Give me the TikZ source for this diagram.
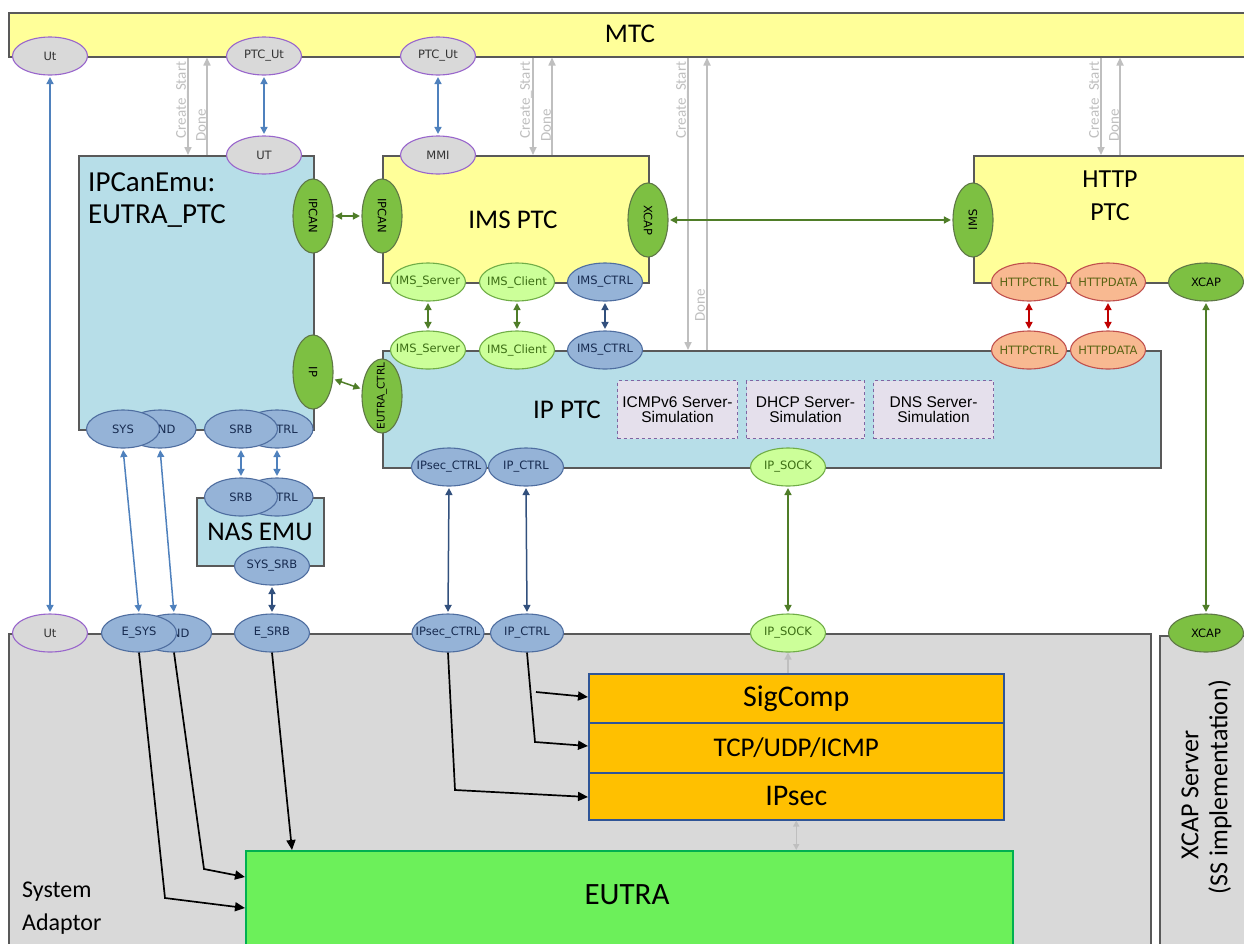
\documentclass[tikz,border=0pt]{standalone}
\usepackage{fontspec}
\setmainfont{Carlito}
\newfontfamily\portfont{DejaVu Sans}
\newfontfamily\arialfont{Liberation Sans}
\usetikzlibrary{shapes.geometric,arrows.meta}
\newcommand\ptxt[1]{\makebox[0pt]{#1}}
\newcommand\fsz[1]{\fontsize{#1}{#1}\selectfont}
\definecolor{cYellow}{RGB}{255,255,153}
\definecolor{cLBlue}{RGB}{183,222,232}
\definecolor{cBoxLine}{RGB}{89,89,89}
\definecolor{cSA}{RGB}{217,217,217}
\definecolor{cOrange}{RGB}{255,192,0}
\definecolor{cOrangeLine}{RGB}{47,85,151}
\definecolor{cEutra}{RGB}{108,240,90}
\definecolor{cEutraLine}{RGB}{0,176,80}
\definecolor{cLav}{RGB}{229,224,236}
\definecolor{cLavLine}{RGB}{128,100,162}
\definecolor{pGray}{RGB}{217,217,217}
\definecolor{pGrayL}{RGB}{153,102,204}
\definecolor{pBlue}{RGB}{149,179,215}
\definecolor{pBlueL}{RGB}{79,110,160}
\definecolor{pBlueT}{RGB}{23,43,80}
\definecolor{pGreen}{RGB}{125,192,66}
\definecolor{pGreenL}{RGB}{95,120,70}
\definecolor{pLGreen}{RGB}{204,255,153}
\definecolor{pLGreenL}{RGB}{112,173,71}
\definecolor{pLGreenT}{RGB}{60,110,20}
\definecolor{pOrange}{RGB}{248,185,145}
\definecolor{pOrangeL}{RGB}{192,80,77}
\definecolor{pOrangeT}{RGB}{90,100,20}
\definecolor{aBlue}{RGB}{79,129,189}
\definecolor{aDBlue}{RGB}{50,80,125}
\definecolor{aGreen}{RGB}{79,125,40}
\definecolor{aRed}{RGB}{192,0,0}
\definecolor{aGray}{RGB}{191,191,191}
\begin{document}
\begin{tikzpicture}[x=1pt,y=-1pt,
  box/.style={rectangle, draw=cBoxLine, line width=1.5pt, inner sep=0pt, anchor=north west},
  port/.style={ellipse, draw, line width=1.1pt, inner sep=0pt, minimum width=75pt, minimum height=38pt, font=\portfont\fsz{11.5}},
  vport/.style={port, minimum width=74pt, minimum height=40pt},
  pgray/.style={fill=pGray, draw=pGrayL, text=black!80},
  pblue/.style={fill=pBlue, draw=pBlueL, text=pBlueT},
  pgreen/.style={fill=pGreen, draw=pGreenL, text=black},
  plgreen/.style={fill=pLGreen, draw=pLGreenL, text=pLGreenT},
  porange/.style={fill=pOrange, draw=pOrangeL, text=pOrangeT},
  ar/.style={line width=1.5pt, {Triangle[length=7pt,width=7pt]}-{Triangle[length=7pt,width=7pt]}, shorten <=1.5pt, shorten >=1.5pt},
  bluear/.style={ar, draw=aBlue},
  dbluear/.style={ar, draw=aDBlue},
  greenar/.style={ar, draw=aGreen},
  redar/.style={ar, draw=aRed},
  gline/.style={draw=aGray, line width=1.6pt, -{Triangle[length=8pt,width=7pt]}},
  glab/.style={text=aGray, font=\fsz{15}, rotate=90, inner sep=0pt},
  blk/.style={draw=black, line width=1.7pt, -{Triangle[length=10pt,width=9pt]}},
  stack/.style={box, draw=cOrangeLine, fill=cOrange, minimum width=415pt, font=\fsz{30}},
  sim/.style={box, draw=cLavLine, fill=cLav, dashed, line width=1pt, minimum height=58pt, align=center, font=\arialfont\fsz{15.5}},
  big/.style={font=\fsz{26}, inner sep=0pt}
]
\useasboundingbox[fill=white] (0,0) rectangle (1244,943);

% ---------- boxes ----------
\node[box, fill=cSA, minimum width=1142pt, minimum height=340pt] (sa) at (8,633) {};
\node[box, fill=cSA, minimum width=110pt, minimum height=340pt] (xs) at (1159,635) {};
\node[box, fill=cYellow, minimum width=1260pt, minimum height=44pt] (mtc) at (8,12) {};
\node[box, fill=cLBlue, minimum width=235pt, minimum height=274pt] (ipc) at (78,155) {};
\node[box, fill=cYellow, minimum width=266pt, minimum height=127pt] (ims) at (382,155) {};
\node[box, fill=cYellow, minimum width=300pt, minimum height=127pt] (http) at (973,155) {};
\node[box, fill=cLBlue, minimum width=778pt, minimum height=117pt] (ipptc) at (382,350) {};
\node[box, fill=cLBlue, minimum width=127pt, minimum height=68pt] (nas) at (196,497) {};
\node[stack, minimum height=49pt] (sigcomp) at (588,673) {SigComp};
\node[stack, minimum height=50pt, font=\fsz{27}] (tcp) at (588,722) {TCP/UDP/ICMP};
\node[stack, minimum height=47pt] (ipsec) at (588,772) {IPsec};
\node[box, draw=cEutraLine, fill=cEutra, line width=2pt, minimum width=767pt, minimum height=130pt] (eutra) at (245,850) {};
\node[sim, minimum width=120pt] (icmp) at (617,380) {ICMPv6 Server-\\Simulation};
\node[sim, minimum width=118pt] (dhcp) at (746,380) {DHCP Server-\\Simulation};
\node[sim, minimum width=120pt] (dns) at (873,380) {DNS Server-\\Simulation};

% ---------- box texts ----------
\node[big, font=\fsz{27}] (mtct) at (630,34) {MTC};
\node[big, font=\fsz{29}, anchor=base west] (ipct1) at (88,191) {IPCanEmu:};
\node[big, font=\fsz{29}, anchor=base west] (ipct2) at (88,223) {EUTRA\_PTC};
\node[big, font=\fsz{27}] (imst) at (513,220) {IMS PTC};
\node[big, anchor=base] (httpt1) at (1110,187) {HTTP};
\node[big, anchor=base] (httpt2) at (1110,220) {PTC};
\node[big, font=\fsz{27}] (ipptct) at (567,410) {IP PTC};
\node[big, font=\fsz{27}] (nast) at (260,532) {NAS EMU};
\node[big, font=\fsz{31}] (eutrat) at (627,895) {EUTRA};
\node[big, font=\fsz{24}, anchor=base west] (sat1) at (22,897) {System};
\node[big, font=\fsz{24}, anchor=base west] (sat2) at (22,930) {Adaptor};
\node[big, rotate=90] (xst1) at (1190,795) {XCAP Server};
\node[big, rotate=90] (xst2) at (1220,787) {(SS implementation)};

% ---------- Create_Start / Done ----------
\coordinate (cs1) at (188,0); \coordinate (dn1) at (207,0);
\coordinate (cs2) at (533,0); \coordinate (dn2) at (552,0);
\coordinate (cs3) at (688,0); \coordinate (dn3) at (707,0);
\coordinate (cs4) at (1101,0); \coordinate (dn4) at (1120,0);
\draw[gline] (cs1 |- mtc.south) -- (cs1 |- ipc.north);
\draw[gline] (dn1 |- ipc.north) -- (dn1 |- mtc.south);
\draw[gline] (cs2 |- mtc.south) -- (cs2 |- ims.north);
\draw[gline] (dn2 |- ims.north) -- (dn2 |- mtc.south);
\draw[gline] (cs3 |- mtc.south) -- (cs3 |- ipptc.north);
\draw[gline] (dn3 |- ipptc.north) -- (dn3 |- mtc.south);
\draw[gline] (cs4 |- mtc.south) -- (cs4 |- http.north);
\draw[gline] (dn4 |- http.north) -- (dn4 |- mtc.south);
\node[glab] (lcs1) at (182,100) {Create\_Start};
\node[glab] (ldn1) at (201,125) {Done};
\node[glab] (lcs2) at (526,100) {Create\_Start};
\node[glab] (ldn2) at (546,125) {Done};
\node[glab] (lcs3) at (682,100) {Create\_Start};
\node[glab] (ldn3) at (700,305) {Done};
\node[glab] (lcs4) at (1095,100) {Create\_Start};
\node[glab] (ldn4) at (1114,125) {Done};

% ---------- ports ----------
\node[port, pgray] (ut1) at (50,56) {\ptxt{Ut}};
\node[port, pgray] (ptcut1) at (264,56) {\ptxt{PTC\_Ut}};
\node[port, pgray] (ptcut2) at (438,56) {\ptxt{PTC\_Ut}};
\node[port, pgray] (ut2) at (264,155) {\ptxt{UT}};
\node[port, pgray] (mmi) at (438,155) {\ptxt{MMI}};
\node[vport, pgreen, rotate=-90] (ipcan1) at (313,216) {\ptxt{IPCAN}};
\node[vport, pgreen, rotate=-90] (ipcan2) at (382,216) {\ptxt{IPCAN}};
\node[vport, pgreen, rotate=-90] (xcap1) at (648,220) {\ptxt{XCAP}};
\node[vport, pgreen, rotate=90] (imsv) at (973,220) {\ptxt{IMS}};
\node[vport, pgreen, rotate=-90] (ip1) at (313,372) {\ptxt{IP}};
\node[vport, pgreen, rotate=90, font=\portfont\fsz{10.5}] (eutractrl) at (382,396) {\ptxt{EUTRA\_CTRL}};
\node[port, plgreen] (imsserver1) at (428,282) {\ptxt{IMS\_Server}};
\node[port, plgreen] (imsclient1) at (517,282) {\ptxt{IMS\_Client}};
\node[port, pblue] (imsctrl1) at (605,282) {\ptxt{IMS\_CTRL}};
\node[port, porange] (httpctrl1) at (1029,282) {\ptxt{HTTPCTRL}};
\node[port, porange] (httpdata1) at (1108,282) {\ptxt{HTTPDATA}};
\node[port, pgreen] (xcap2) at (1206,282) {\ptxt{XCAP}};
\node[port, plgreen] (imsserver2) at (428,350) {\ptxt{IMS\_Server}};
\node[port, plgreen] (imsclient2) at (517,350) {\ptxt{IMS\_Client}};
\node[port, pblue] (imsctrl2) at (605,350) {\ptxt{IMS\_CTRL}};
\node[port, porange] (httpctrl2) at (1029,350) {\ptxt{HTTPCTRL}};
\node[port, porange] (httpdata2) at (1108,350) {\ptxt{HTTPDATA}};
\node[port, pblue] (ipsecctrl1) at (449,467) {\ptxt{IPsec\_CTRL}};
\node[port, pblue] (ipctrl1) at (526,467) {\ptxt{IP\_CTRL}};
\node[port, plgreen] (ipsock1) at (788,467) {\ptxt{IP\_SOCK}};
\node[port, pblue, minimum width=72pt] (ind) at (160,429) {\ptxt{\hspace*{10pt}IND}};
\node[port, pblue, minimum width=73pt] (sys) at (123,429) {\ptxt{SYS}};
\node[port, pblue, minimum width=72pt] (ctrl1) at (277,429) {\ptxt{\hspace*{12pt}CTRL}};
\node[port, pblue, minimum width=73pt] (srb1) at (241,429) {\ptxt{SRB}};
\node[port, pblue, minimum width=72pt] (ctrl2) at (277,497) {\ptxt{\hspace*{12pt}CTRL}};
\node[port, pblue, minimum width=73pt] (srb2) at (241,497) {\ptxt{SRB}};
\node[port, pblue] (syssrb) at (272,566) {\ptxt{SYS\_SRB}};
\node[port, pgray] (ut3) at (50,633) {\ptxt{Ut}};
\node[port, pblue] (ind2) at (174,633) {\ptxt{\hspace*{10pt}IND}};
\node[port, pblue] (esys) at (139,633) {\ptxt{E\_SYS}};
\node[port, pblue] (esrb) at (272,633) {\ptxt{E\_SRB}};
\node[port, pblue, minimum width=72pt] (ipsecctrl2) at (448,633) {\ptxt{IPsec\_CTRL}};
\node[port, pblue, minimum width=73pt] (ipctrl2) at (527,633) {\ptxt{IP\_CTRL}};
\node[port, plgreen] (ipsock2) at (788,633) {\ptxt{IP\_SOCK}};
\node[port, pgreen] (xcap3) at (1206,633) {\ptxt{XCAP}};

% ---------- connectors ----------
\draw[bluear] (ut1.south) -- (ut3.north);
\draw[bluear] (ptcut1.south) -- (ut2.north);
\draw[bluear] (ptcut2.south) -- (mmi.north);
\draw[bluear] (sys.south) -- (esys.north);
\draw[bluear] (ind.south) -- (ind2.north);
\draw[bluear] (srb1.south) -- (srb2.north);
\draw[bluear] (ctrl1.south) -- (ctrl2.north);
\draw[dbluear] (syssrb.south) -- (esrb.north);
\draw[greenar] (ipcan1) -- (ipcan2);
\draw[greenar] (xcap1) -- (imsv);
\draw[greenar] (ip1) -- (eutractrl);
\draw[greenar] (imsserver1.south) -- (imsserver2.north);
\draw[greenar] (imsclient1.south) -- (imsclient2.north);
\draw[dbluear] (imsctrl1.south) -- (imsctrl2.north);
\draw[redar] (httpctrl1.south) -- (httpctrl2.north);
\draw[redar] (httpdata1.south) -- (httpdata2.north);
\draw[dbluear] (ipsecctrl1.south) -- (ipsecctrl2.north);
\draw[dbluear] (ipctrl1.south) -- (ipctrl2.north);
\draw[greenar] (ipsock1.south) -- (ipsock2.north);
\draw[greenar] (xcap2.south) -- (xcap3.north);
\draw[draw=aGray, line width=1.5pt, -{Triangle[length=7pt,width=7pt]}] (ipsock2.south |- sigcomp.north) -- (ipsock2.south);
\draw[draw=aGray, line width=1.5pt, {Triangle[length=6pt,width=6pt]}-{Triangle[length=6pt,width=6pt]}] (ipsec.south) -- (ipsec.south |- eutra.north);

\coordinate (k1) at (165,898); \coordinate (k1e) at (245,908);
\coordinate (k2) at (204,869); \coordinate (k2e) at (245,877);
\coordinate (k3e) at (292,850);
\coordinate (k4) at (455,790); \coordinate (k4e) at (588,797);
\coordinate (k5) at (535,742); \coordinate (k5e) at (588,746);
\coordinate (k6) at (536,692); \coordinate (k6e) at (588,697);
\draw[blk] (esys.south) -- (k1) -- (k1e);
\draw[blk] (ind2.south) -- (k2) -- (k2e);
\draw[blk] (esrb.south) -- (k3e);
\draw[blk] (ipsecctrl2.south) -- (k4) -- (k4e);
\draw[blk] (ipctrl2.south) -- (k5) -- (k5e);
\draw[blk] (k6) -- (k6e);
\end{tikzpicture}
\end{document}
